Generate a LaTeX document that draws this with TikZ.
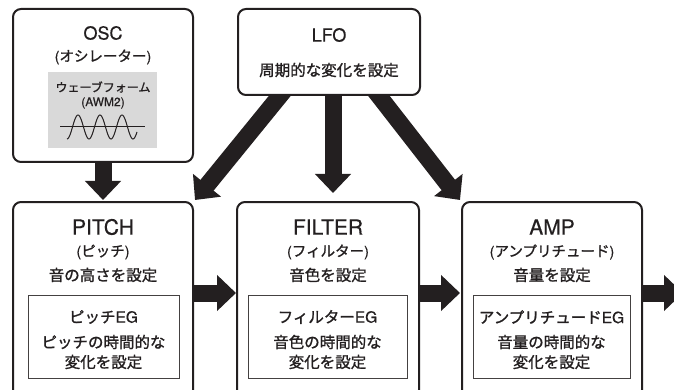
\documentclass[tikz,border=0pt]{standalone}
\usepackage{fontspec}
\setmainfont{TeX Gyre Heros}[FakeBold=0.5]
\newfontfamily\jp{Noto Sans CJK JP}[FakeBold=1.2]
\usetikzlibrary{arrows.meta,backgrounds}
\definecolor{ink}{HTML}{231F20}
\definecolor{panel}{HTML}{D9D9D9}
\begin{document}
\begin{tikzpicture}[x=1pt,y=-1pt,
  box/.style={draw=ink, line width=2pt, rounded corners=8pt, fill=white, anchor=north west, inner sep=0pt, outer sep=0pt},
  inbox/.style={draw=ink!85, line width=1pt, fill=white, anchor=north west, inner sep=0pt, outer sep=0pt},
  grayp/.style={fill=panel, anchor=north west, inner sep=0pt, outer sep=0pt},
  tA/.style={text=ink, inner sep=0pt, font=\fontsize{18}{20}\selectfont},
  tB/.style={text=ink, inner sep=0pt, font=\fontsize{21}{24}\selectfont},
  tC/.style={text=ink, inner sep=0pt, font=\fontsize{14.5}{16}\selectfont},
  tD/.style={text=ink, inner sep=0pt, font=\fontsize{15.5}{18}\selectfont},
  tE/.style={text=ink, inner sep=0pt, font=\fontsize{12}{14}\selectfont},
  bigarrow/.style={draw=ink, line width=17pt, -{Triangle[width=35pt,length=19pt]}}
]
\useasboundingbox (0,0) rectangle (674,390);
\clip (0,0) rectangle (674,390);

% boxes
\node[box, minimum width=180pt, minimum height=153pt] (osc) at (13,9) {};
\node[box, minimum width=182pt, minimum height=86pt] (lfo) at (238,9) {};
\node[box, minimum width=180pt, minimum height=196pt] (pitch) at (13,202) {};
\node[box, minimum width=182pt, minimum height=196pt] (filter) at (237,202) {};
\node[box, minimum width=180pt, minimum height=196pt] (amp) at (462,202) {};

% inner boxes
\node[grayp, minimum width=109pt, minimum height=76pt] (wavep) at (48,72) {};
\node[inbox, minimum width=151pt, minimum height=83pt] (pitcheg) at (28,295) {};
\node[inbox, minimum width=159pt, minimum height=83pt] (filtereg) at (248,295) {};
\node[inbox, minimum width=157pt, minimum height=83pt] (ampeg) at (473,295) {};

% OSC texts
\node[tA] (osct) at (103,33) {OSC};
\node[tC] (oscs) at (103,57) {({\jp オシレーター})};
\node[tE] (wavet) at (103,87) {{\jp ウェーブフォーム}};
\node[tE] (awm) at (103,103) {(AWM2)};
\draw[ink, line width=1pt] (60,127) -- (145,127);
\draw[ink, line width=1pt] plot[domain=67:137, samples=120, smooth] (\x, {127 - 12*cos(((\x)-78)/22*360)});

% LFO texts
\node[tA] (lfot) at (329,35) {LFO};
\node[tD] (lfos) at (329,70) {{\jp 周期的な変化を設定}};

% PITCH texts
\node[tB] (pitcht) at (103,227) {PITCH};
\node[tC] (pitchs) at (103,252) {({\jp ピッチ})};
\node[tD] (pitchd) at (103,275) {{\jp 音の高さを設定}};
\node[tD] (pitche1) at (103.5,317) {{\jp ピッチ}EG};
\node[tD] (pitche2) at (103.5,342) {{\jp ピッチの時間的な}};
\node[tD] (pitche3) at (103.5,362) {{\jp 変化を設定}};

% FILTER texts
\node[tB] (filtert) at (328,227) {FILTER};
\node[tC] (filters) at (328,252) {({\jp フィルター})};
\node[tD] (filterd) at (328,275) {{\jp 音色を設定}};
\node[tD] (filtere1) at (327.5,317) {{\jp フィルター}EG};
\node[tD] (filtere2) at (327.5,342) {{\jp 音色の時間的な}};
\node[tD] (filtere3) at (327.5,362) {{\jp 変化を設定}};

% AMP texts
\node[tB] (ampt) at (552,227) {AMP};
\node[tC] (amps) at (552,252) {({\jp アンプリチュード})};
\node[tD] (ampd) at (552,275) {{\jp 音量を設定}};
\node[tD] (ampe1) at (551.5,317) {{\jp アンプリチュード}EG};
\node[tD] (ampe2) at (551.5,342) {{\jp 音量の時間的な}};
\node[tD] (ampe3) at (551.5,362) {{\jp 変化を設定}};

\coordinate (out) at (683,293);

% arrows
\begin{scope}[on background layer]
\draw[bigarrow] ([yshift=6pt]osc.south) -- ([yshift=2pt]pitch.north);
\draw[bigarrow] ([xshift=4pt,yshift=6pt]lfo.south) -- ([xshift=5pt,yshift=9pt]filter.north);
\draw[bigarrow] ([xshift=-42pt,yshift=8pt]lfo.south) -- ([shift={(2pt,2pt)}]pitch.north east);
\draw[bigarrow] ([xshift=43pt,yshift=8pt]lfo.south) -- ([shift={(-2pt,2pt)}]amp.north west);
\draw[bigarrow] ([xshift=-6pt,yshift=7pt]pitch.east) -- ([xshift=-1pt,yshift=7pt]filter.west);
\draw[bigarrow] ([xshift=-6pt,yshift=7pt]filter.east) -- ([xshift=-2pt,yshift=7pt]amp.west);
\draw[bigarrow] ([xshift=-6pt,yshift=7pt]amp.east) -- (out);
\end{scope}
\end{tikzpicture}
\end{document}
